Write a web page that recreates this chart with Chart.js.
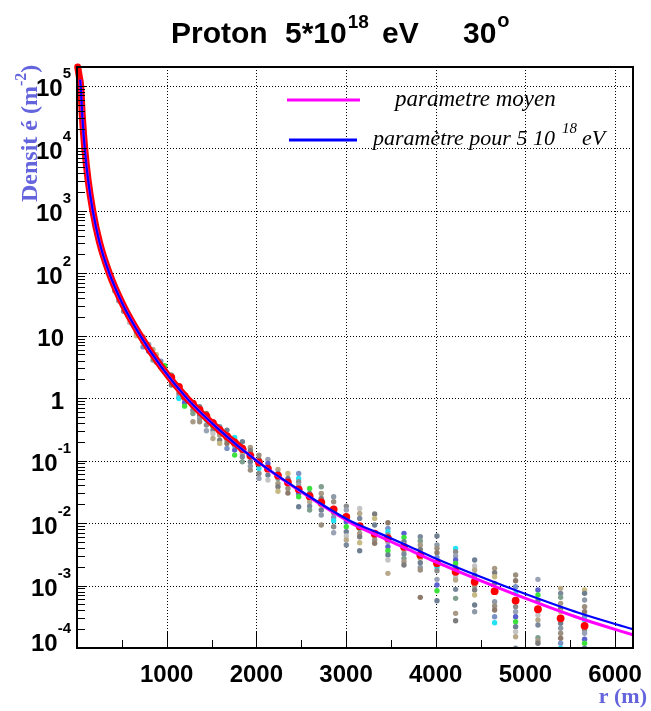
<!DOCTYPE html>
<html><head><meta charset="utf-8">
<script src="https://cdn.jsdelivr.net/npm/chart.js@4"></script>
<style>html,body{margin:0;padding:0;background:#fff;}canvas{display:block;background:#fff;}</style>
</head><body>
<canvas id="c" width="651" height="711"></canvas>
<script>
// ---------------- DATA (log10 of density, m^-2) ----------------
const curveR      = [35, 41, 60, 86, 123, 176, 250, 360, 511, 706, 940, 1224, 1580, 2000, 2500, 3060, 3375, 3700, 4006, 4500, 5010, 5600, 6200];
const moyenLog    = [5.1, 5.0, 4.5, 4.0, 3.5, 3.0, 2.5, 2.0, 1.5, 1.0, 0.5, 0.0, -0.5, -1.0, -1.5, -2.0, -2.215, -2.425, -2.625, -2.92, -3.21, -3.52, -3.79];
const energyLog   = [5.1, 5.0, 4.5, 4.0, 3.5, 3.0, 2.5, 2.0, 1.5, 1.0, 0.5, 0.0, -0.5, -1.0, -1.49, -1.975, -2.165, -2.37, -2.57, -2.86, -3.14, -3.44, -3.70];

const bandR       = [8, 25, 41, 60, 86, 123, 176, 250, 360, 511, 706, 940, 1224, 1580, 1850];
const bandLog     = [5.3, 5.15, 5.0, 4.5, 4.0, 3.5, 3.0, 2.5, 2.0, 1.5, 1.0, 0.5, 0.0, -0.5, -0.82];

const meanR   = [1052,1137,1200,1293,1368,1443,1516,1591,1672,1758,1844,1933,2029,2129,2241,2352,2472,2594,2724,2862,3003,3152,3319,3467,3646,3828,4014,4222,4434,4657,4891,5140,5393,5660];
const meanLog = [0.33,0.18,0.03,-0.09,-0.19,-0.29,-0.40,-0.51,-0.61,-0.71,-0.81,-0.92,-1.03,-1.13,-1.24,-1.35,-1.46,-1.57,-1.67,-1.78,-1.90,-2.05,-2.17,-2.245,-2.38,-2.51,-2.645,-2.78,-2.94,-3.09,-3.24,-3.38,-3.525,-3.645];

const showerR = [420,465,520,585,662,736,800,847,884,935,978,1052,1137,1200,1293,1368,1443,1516,1591,1672,1758,1844,1933,2029,2129,2241,2352,2472,2594,2724,2862,3003,3152,3319,3467,3646,3828,4014,4222,4434,4657,4891,5140,5393,5660];
const showerLog = [
  [1.80,1.72],[1.64,1.56],[1.47,1.39],[1.30,1.21],[1.12,1.06,1.00],[0.98,0.90,0.82],[0.86,0.75],
  [0.78,0.68,0.61],[0.70,0.58],[0.59,0.50],[0.52,0.45,0.42],[0.37,0.28,0.21],
  [0.18,0.13,0.075,0.02,-0.005],[0.048,-0.021,-0.075,-0.128],[-0.085,-0.139,-0.192,-0.245,-0.379],
  [-0.139,-0.219,-0.272,-0.325,-0.379],[-0.245,-0.309,-0.352,-0.432,-0.523],[-0.379,-0.459,-0.512,-0.565,-0.645],
  [-0.459,-0.539,-0.592,-0.672,-0.725],[-0.512,-0.592,-0.672,-0.725,-0.805],[-0.629,-0.699,-0.768,-0.832,-0.912],
  [-0.699,-0.789,-0.885,-0.939,-1.019],[-0.789,-0.843,-0.939,-1.019,-1.088,-1.152],[-0.912,-0.981,-1.045,-1.125,-1.205,-1.285],
  [-0.981,-1.045,-1.125,-1.232,-1.312],[-1.141,-1.205,-1.285,-1.365,-1.419,-1.49],[-1.205,-1.285,-1.355,-1.445,-1.52],
  [-1.205,-1.285,-1.339,-1.392,-1.525,-1.579,-1.739],[-1.445,-1.525,-1.605,-1.659,-1.728,-1.792],
  [-1.419,-1.525,-1.605,-1.712,-1.792,-1.872,-2.032],[-1.579,-1.659,-1.835,-1.909,-1.963,-2.059,-2.155],
  [-1.728,-1.792,-1.979,-2.059,-2.139,-2.208,-2.272,-2.352],[-1.765,-1.845,-1.925,-2.085,-2.165,-2.219,-2.315,-2.443],
  [-1.856,-1.925,-2.032,-2.208,-2.272,-2.325],
  [-1.995,-2.085,-2.139,-2.192,-2.299,-2.379,-2.443,-2.512,-2.592,-2.805],
  [-2.165,-2.229,-2.299,-2.352,-2.432,-2.496,-2.565,-2.619,-2.672],
  [-2.219,-2.288,-2.352,-2.421,-2.565,-2.635,-2.709,-2.752,-3.189],
  [-2.208,-2.352,-2.405,-2.475,-2.549,-2.709,-2.763,-2.901,-2.992,-3.083,-3.243],
  [-2.405,-2.459,-2.528,-2.592,-2.645,-2.709,-2.859,-2.912,-3.061,-3.205,-3.445,-3.563],
  [-2.592,-2.688,-2.752,-2.832,-2.885,-3.008,-3.072,-3.152,-3.312,-3.419],
  [-2.725,-2.795,-2.859,-2.965,-3.259,-3.328,-3.392,-3.499,-3.595],
  [-2.832,-2.923,-3.019,-3.125,-3.339,-3.419,-3.499,-3.579,-3.659,-3.739,-3.819,-4.005],
  [-2.901,-3.072,-3.152,-3.243,-3.472,-3.552,-3.632,-3.835,-3.883,-3.925],
  [-3.045,-3.125,-3.189,-3.285,-3.365,-3.419,-3.605,-3.685,-3.765,-3.845,-3.925,-4.005],
  [-3.072,-3.125,-3.232,-3.339,-3.419,-3.499,-3.552,-3.712,-3.765,-3.861,-3.925,-4.005]
];

const xTickValues = [1000, 2000, 3000, 4000, 5000, 6000];
const xTickLabels = ['1000', '2000', '3000', '4000', '5000', '6000'];
const xMinorTickValues = [500, 1500, 2500, 3500, 4500, 5500];
const yDecadeExp = [-4, -3, -2, -1, 0, 1, 2, 3, 4, 5];
const yTickBase  = ['10', '10', '10', '10', '1', '10', '10', '10', '10', '10'];
const yTickSup   = ['-4', '-3', '-2', '-1', '', '', '2', '3', '4', '5'];

// ---------------- STYLE ----------------
const dotPalette = ['#7a8a9c','#8c8c8c','#c6b983','#6d7f93','#8e7a6a','#7fa08f','#9aa3b5','#6f7f8f','#c4c4c4',
                    '#7b92c6','#a99a86','#5a60d0','#8f9aa8','#b8a98a','#22e3f5','#7c7c7c','#3ce23c','#9b8f80'];
const AXIS_BLUE = '#6464dc';
const SANS = '"Liberation Sans", Arial, sans-serif';
const SERIF = '"Liberation Serif", "Times New Roman", serif';

const toPts = (rs, ls) => rs.map((r, i) => ({x: r, y: Math.pow(10, ls[i])}));
const showerPts = [], showerCols = [];
showerR.forEach((r, i) => showerLog[i].forEach((v, j) => {
  showerPts.push({x: r, y: Math.pow(10, v)});
  showerCols.push(dotPalette[(i * 7 + j * 5) % dotPalette.length]);
}));

function drawParts(ctx, parts, x, baseY, align) {
  let total = 0;
  parts.forEach(p => { ctx.font = p.font; p.w = ctx.measureText(p.t).width; total += p.w + (p.gap || 0); });
  let cx = align === 'right' ? x - total : (align === 'center' ? x - total / 2 : x);
  ctx.textAlign = 'left'; ctx.textBaseline = 'alphabetic';
  parts.forEach(p => { cx += (p.gap || 0); ctx.font = p.font; ctx.fillText(p.t, cx, baseY + (p.dy || 0)); cx += p.w; });
}

const rootPlugin = {
  id: 'rootStyle',
  beforeDatasetsDraw(chart) {
    const {ctx, chartArea: a, scales: {x, y}} = chart;
    ctx.save();
    ctx.strokeStyle = '#000'; ctx.lineWidth = 1; ctx.setLineDash([1, 2]);
    ctx.beginPath();
    xTickValues.forEach(v => { const px = Math.round(x.getPixelForValue(v)) + 0.5; ctx.moveTo(px, a.top); ctx.lineTo(px, a.bottom); });
    yDecadeExp.forEach(e => { if (e === -4) return; const py = Math.round(y.getPixelForValue(Math.pow(10, e))) + 0.5; ctx.moveTo(a.left, py); ctx.lineTo(a.right, py); });
    ctx.stroke();
    ctx.restore();
  },
  afterDraw(chart) {
    const {ctx, chartArea: a, scales: {x, y}} = chart;
    ctx.save();
    ctx.setLineDash([]);
    ctx.strokeStyle = '#000';
    ctx.lineWidth = 1;
    ctx.beginPath();
    yDecadeExp.forEach(e => {
      for (let m = 1; m <= 9; m++) {
        const v = m * Math.pow(10, e);
        if (v < 1e-4 || v > 2e5) continue;
        const py = Math.round(y.getPixelForValue(v)) + 0.5;
        ctx.moveTo(a.left, py); ctx.lineTo(a.left + (m === 1 ? 10 : 8), py);
      }
    });
    xTickValues.forEach(v => { const px = Math.round(x.getPixelForValue(v)) + 0.5; ctx.moveTo(px, a.bottom); ctx.lineTo(px, a.bottom - 16); });
    xMinorTickValues.forEach(v => { const px = Math.round(x.getPixelForValue(v)) + 0.5; ctx.moveTo(px, a.bottom); ctx.lineTo(px, a.bottom - 8); });
    ctx.stroke();
    ctx.lineWidth = 2;
    ctx.strokeRect(a.left, a.top, a.right - a.left, a.bottom - a.top);

    ctx.fillStyle = '#000';
    yDecadeExp.forEach((e, i) => {
      const py = y.getPixelForValue(Math.pow(10, e));
      const base = e === -4 ? py + 3 : py + 10.5;
      if (yTickSup[i]) {
        drawParts(ctx, [{t: yTickBase[i], font: 'bold 24px ' + SANS},
                        {t: yTickSup[i], font: 'bold 15px ' + SANS, dy: -18}], 71, base, 'right');
      } else {
        drawParts(ctx, [{t: yTickBase[i], font: 'bold 24px ' + SANS}], 64, base, 'right');
      }
    });
    xTickValues.forEach((v, i) => {
      drawParts(ctx, [{t: xTickLabels[i], font: 'bold 24px ' + SANS}], x.getPixelForValue(v), 682, 'center');
    });

    // title
    ctx.fillStyle = '#000';
    const tf = 'bold 30px ' + SANS, ts = 'bold 19px ' + SANS;
    drawParts(ctx, [{t: 'Proton', font: tf}], 171, 43, 'left');
    drawParts(ctx, [{t: '5*10', font: tf}, {t: '18', font: ts, dy: -15, gap: 1}], 285, 43, 'left');
    drawParts(ctx, [{t: 'eV', font: tf}], 382, 43, 'left');
    drawParts(ctx, [{t: '30', font: tf}, {t: 'o', font: 'bold 20px ' + SANS, dy: -16, gap: 1}], 463, 43, 'left');

    // axis titles
    ctx.fillStyle = AXIS_BLUE;
    drawParts(ctx, [{t: 'r (m)', font: 'bold 22px ' + SERIF}], 647, 703, 'right');
    ctx.save();
    ctx.translate(37, 202);
    ctx.rotate(-Math.PI / 2);
    drawParts(ctx, [{t: 'Densit é (m', font: 'bold 24px ' + SERIF},
                    {t: '-2', font: 'bold 16px ' + SERIF, dy: -11},
                    {t: ')', font: 'bold 24px ' + SERIF}], 0, 0, 'left');
    ctx.restore();

    // legend
    ctx.lineWidth = 3;
    ctx.strokeStyle = '#ff00ff';
    ctx.beginPath(); ctx.moveTo(287, 100); ctx.lineTo(360, 100); ctx.stroke();
    ctx.strokeStyle = '#0000ff';
    ctx.beginPath(); ctx.moveTo(289, 140); ctx.lineTo(357, 140); ctx.stroke();
    ctx.fillStyle = '#000';
    drawParts(ctx, [{t: 'parametre moyen', font: 'italic 23px ' + SERIF}], 395, 106, 'left');
    drawParts(ctx, [{t: 'paramètre pour 5 10', font: 'italic 22px ' + SERIF}], 373, 145, 'left');
    drawParts(ctx, [{t: '18', font: 'italic 15px ' + SERIF}], 562, 133, 'left');
    drawParts(ctx, [{t: 'eV', font: 'italic 22px ' + SERIF}], 582, 145, 'left');
    ctx.restore();
  }
};

new Chart(document.getElementById('c'), {
  type: 'scatter',
  data: {
    datasets: [
      {label: 'paramètre pour 5 10^18 eV', data: toPts(curveR, energyLog), showLine: true, borderColor: '#0000ff',
       borderWidth: 2.2, pointRadius: 0, cubicInterpolationMode: 'monotone', order: 0},
      {label: 'parametre moyen', data: toPts(curveR, moyenLog), showLine: true, borderColor: '#ff00ff',
       borderWidth: 3, pointRadius: 0, cubicInterpolationMode: 'monotone', order: 1},
      {label: 'moyenne', data: toPts(meanR, meanLog), showLine: false, pointRadius: 3.9, pointBorderWidth: 0,
       pointBackgroundColor: '#ff0000', order: 2},
      {label: 'moyenne (bande)', data: toPts(bandR, bandLog), showLine: true, borderColor: '#ff0000', borderWidth: 7,
       borderCapStyle: 'round', borderJoinStyle: 'round', pointRadius: 0, cubicInterpolationMode: 'monotone', clip: 6, order: 3},
      {label: 'gerbes', data: showerPts, showLine: false, pointRadius: 2.7, pointBorderWidth: 0,
       pointBackgroundColor: showerCols, order: 4}
    ]
  },
  options: {
    responsive: false, devicePixelRatio: 1, animation: false,
    layout: {padding: {left: 77, top: 67, right: 18, bottom: 63}},
    scales: {
      x: {type: 'linear', min: 0, max: 6200, display: false},
      y: {type: 'logarithmic', min: 1e-4, max: 2e5, display: false}
    },
    plugins: {legend: {display: false}, tooltip: {enabled: false}}
  },
  plugins: [rootPlugin]
});
</script>
</body></html>
